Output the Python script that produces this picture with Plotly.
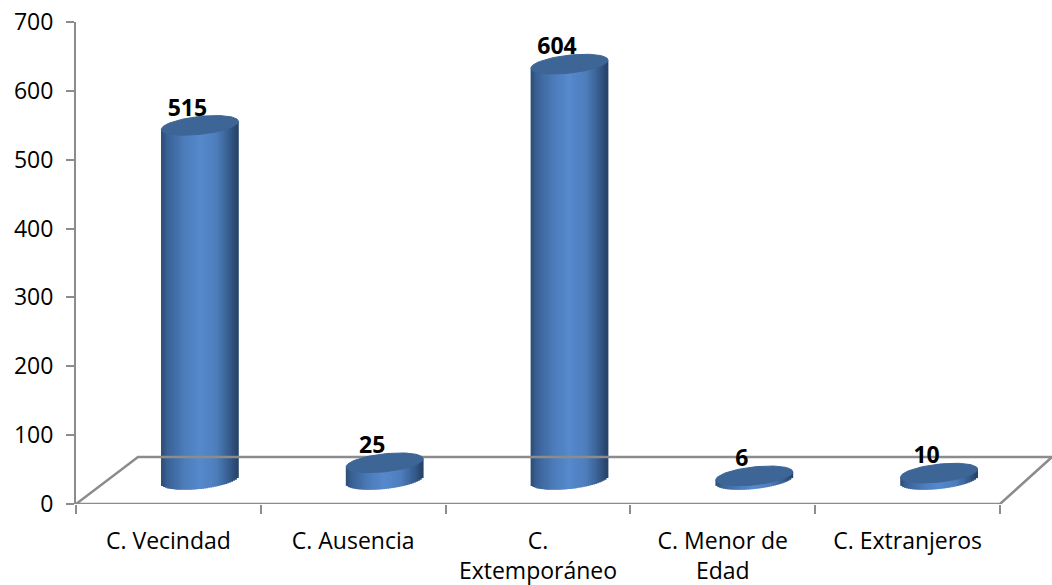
import numpy as np
import plotly.graph_objects as go

categories = ["C. Vecindad", "C. Ausencia", "C.<br>Extemporáneo", "C. Menor de<br>Edad", "C. Extranjeros"]
values = [515, 25, 604, 6, 10]
y_ticks = [0, 100, 200, 300, 400, 500, 600, 700]

W, H = 1052, 585
L, T, B = 76, 22, 504
STEP = 184.8
PX_X = 1 / STEP
PX_Y = 700 / (B - T)

DEPTH_X = 31.5 * PX_X      # bars are pushed back on the floor
BASE = 24 * PX_Y
RX = 38.5 * PX_X
RY = 9 * PX_Y
SHEAR = 4.0 * PX_Y / RX
LABEL_DX = 19 * PX_X
LABEL_DY = 15.5 * PX_Y
N = 40

stops = np.array([0, 0.08, 0.3, 0.5, 0.72, 0.88, 1.0])
rgb = np.array([[44, 76, 116], [58, 98, 150], [76, 124, 186], [86, 138, 205],
                [78, 126, 188], [56, 94, 144], [38, 66, 102]])

def shade(t):
    c = [np.interp(t, stops, rgb[:, k]) for k in range(3)]
    return "rgb(%d,%d,%d)" % (c[0], c[1], c[2])

fig = go.Figure()

# floor and axis frame
GRAY = "#8c8c8c"
back_x = 62 * PX_X
back_y = 47 * PX_Y
x_end = 4.5
x_max = -0.5 + (W - L) * PX_X
fig.add_trace(go.Scatter(x=[-0.5, -0.5 + back_x, x_max], y=[0, back_y, back_y], mode="lines",
                         line=dict(color=GRAY, width=2.5), hoverinfo="skip", showlegend=False))
fig.add_trace(go.Scatter(x=[-0.5, x_end, x_max], y=[0, 0, back_y], mode="lines",
                         line=dict(color=GRAY, width=2.5), hoverinfo="skip", showlegend=False))

# cylinders: thin vertical strips whose ends follow the ellipses
for i, v in enumerate(values):
    cx = i + DEPTH_X
    u = (np.arange(N) + 0.5) / N * 2 - 1
    half = np.sqrt(1 - u ** 2)
    xs = cx + u * RX
    lower = BASE - half * RY + SHEAR * u * RX
    upper = BASE + v + SHEAR * u * RX
    fig.add_trace(go.Bar(x=xs, base=lower, y=upper - lower, width=RX * 2 / N * 1.4,
                         marker=dict(color=[shade((a + 1) / 2) for a in u], line=dict(width=0)),
                         hoverinfo="skip", showlegend=False))
    t = np.linspace(0, 2 * np.pi, 90)
    ex = np.cos(t)
    fig.add_trace(go.Scatter(x=cx + ex * RX,
                             y=BASE + v + np.sin(t) * RY + SHEAR * ex * RX,
                             mode="lines", fill="toself", fillcolor="#3d6596",
                             line=dict(color="#3d6596", width=1),
                             hoverinfo="skip", showlegend=False))

fig.add_trace(go.Scatter(x=[i + LABEL_DX for i in range(len(values))],
                         y=[BASE + v + LABEL_DY for v in values],
                         text=[str(v) for v in values], mode="text",
                         textposition="middle center",
                         textfont=dict(family="Open Sans", size=23, color="black", weight="bold"),
                         cliponaxis=False, hoverinfo="skip", showlegend=False))

fig.update_layout(
    width=W, height=H, autosize=False,
    margin=dict(l=L, r=0, t=T, b=H - B, pad=0),
    paper_bgcolor="white", plot_bgcolor="white",
    barmode="overlay", showlegend=False,
    font=dict(family="Open Sans", size=23, color="black"),
    xaxis=dict(range=[-0.5, x_max], tickmode="array", tickvals=list(range(len(categories))),
               ticktext=categories, ticks="", showgrid=False, zeroline=False, showline=False,
               ticklabelstandoff=21, tickangle=0, ticklabeloverflow="allow",
               minor=dict(tickmode="array", tickvals=[k - 0.5 for k in range(len(categories) + 1)],
                          ticks="outside", ticklen=9, tickwidth=2, tickcolor=GRAY, showgrid=False)),
    yaxis=dict(range=[0, 700], tickmode="array", tickvals=y_ticks, ticks="outside", ticklen=8,
               tickwidth=2, tickcolor=GRAY, showgrid=False, zeroline=False, showline=True,
               linecolor=GRAY, linewidth=2, ticklabelstandoff=8, ticklabeloverflow="allow"),
)

fig.write_html("out.html", config=dict(displayModeBar=False),
               default_width=f"{W}px", default_height=f"{H}px",
               post_script="document.body.style.margin='0';document.documentElement.style.overflow='hidden';")
